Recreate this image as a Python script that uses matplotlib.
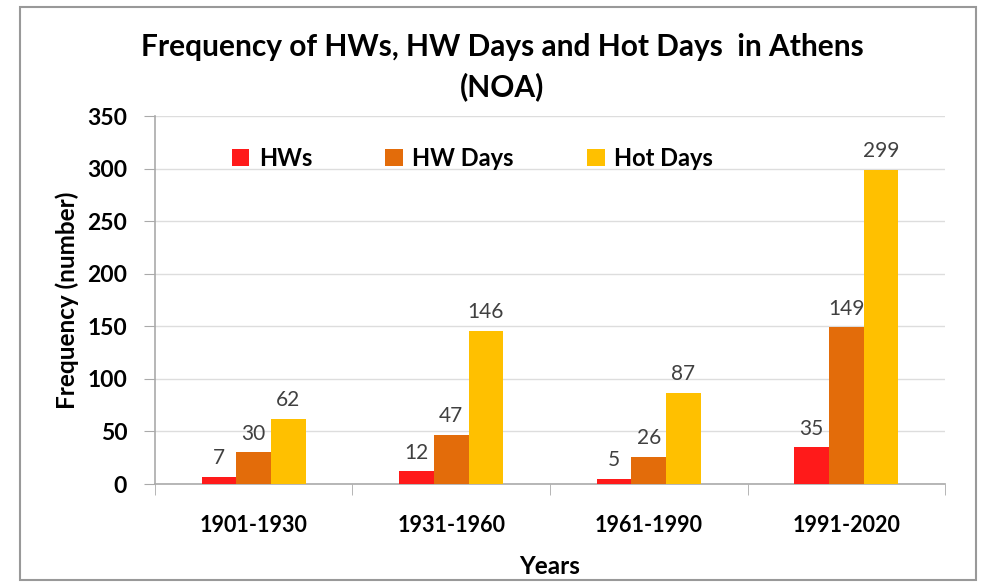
import matplotlib
matplotlib.use("Agg")
import matplotlib.pyplot as plt
from matplotlib.patches import Rectangle
import numpy as np

periods = ["1901-1930", "1931-1960", "1961-1990", "1991-2020"]
hws = [7, 12, 5, 35]
hw_days = [30, 47, 26, 149]
hot_days = [62, 146, 87, 299]
series_names = ["HWs", "HW Days", "Hot Days"]
colors = ["#FF1A1A", "#E36C0A", "#FFC000"]
yticks = [0, 50, 100, 150, 200, 250, 300, 350]

plt.rcParams['font.family'] = ['Lato', 'DejaVu Sans']

fig = plt.figure(figsize=(9.91, 5.84), dpi=100)
ax = fig.add_axes([0.1564, 0.1712, 0.7972, 0.630])

x = np.arange(len(periods))
w = 0.175
for i, (vals, name, c) in enumerate(zip([hws, hw_days, hot_days], series_names, colors)):
    bars = ax.bar(x + (i - 1) * w, vals, w, color=c, label=name, zorder=3)
    for b, v in zip(bars, vals):
        ax.text(b.get_x() + b.get_width() / 2, v + 8, str(v), ha='center', va='bottom',
                fontsize=15, color='#404040')

ax.set_xlim(-0.5, len(periods) - 0.5)
ax.set_ylim(0, 350)
ax.set_yticks(yticks)
ax.set_yticklabels([str(t) for t in yticks], fontsize=16.5, fontweight='bold')
ax.yaxis.grid(True, color='#DDDDDD', linewidth=1, zorder=0)
ax.set_xticks(x)
ax.set_xticklabels(periods, fontsize=15.5, fontweight='bold')
ax.tick_params(axis='x', length=0, pad=22)
ax.set_xticks(np.arange(-0.5, len(periods)), minor=True)
ax.tick_params(axis='x', which='minor', length=8, color='#AAAAAA', direction='out')
ax.tick_params(axis='y', length=8, color='#AAAAAA', pad=12)
for s in ['top', 'right']:
    ax.spines[s].set_visible(False)
for s in ['left', 'bottom']:
    ax.spines[s].set_color('#AAAAAA')
    ax.spines[s].set_linewidth(1.2)

ax.set_ylabel("Frequency (number)", fontsize=17.5, fontweight='bold', labelpad=6)
ax.set_xlabel("Years", fontsize=17.5, fontweight='bold', labelpad=14)

leg = ax.legend(loc='center left', bbox_to_anchor=(0.07, 0.885), ncol=3, frameon=False,
                prop={'size': 17, 'weight': 'bold'}, handlelength=0.75, handleheight=0.75,
                columnspacing=3.1, handletextpad=0.4)

fig.text(0.507, 0.92, "Frequency of HWs, HW Days and Hot Days  in Athens", ha='center',
         va='center', fontsize=21.5, fontweight='bold')
fig.text(0.507, 0.851, "(NOA)", ha='center', va='center', fontsize=21.5, fontweight='bold')

fig.patches.append(Rectangle((0.02, 0.006), 0.965, 0.982, transform=fig.transFigure,
                             fill=False, edgecolor='#999999', linewidth=1.5))

fig.savefig("out.png", dpi=100)
